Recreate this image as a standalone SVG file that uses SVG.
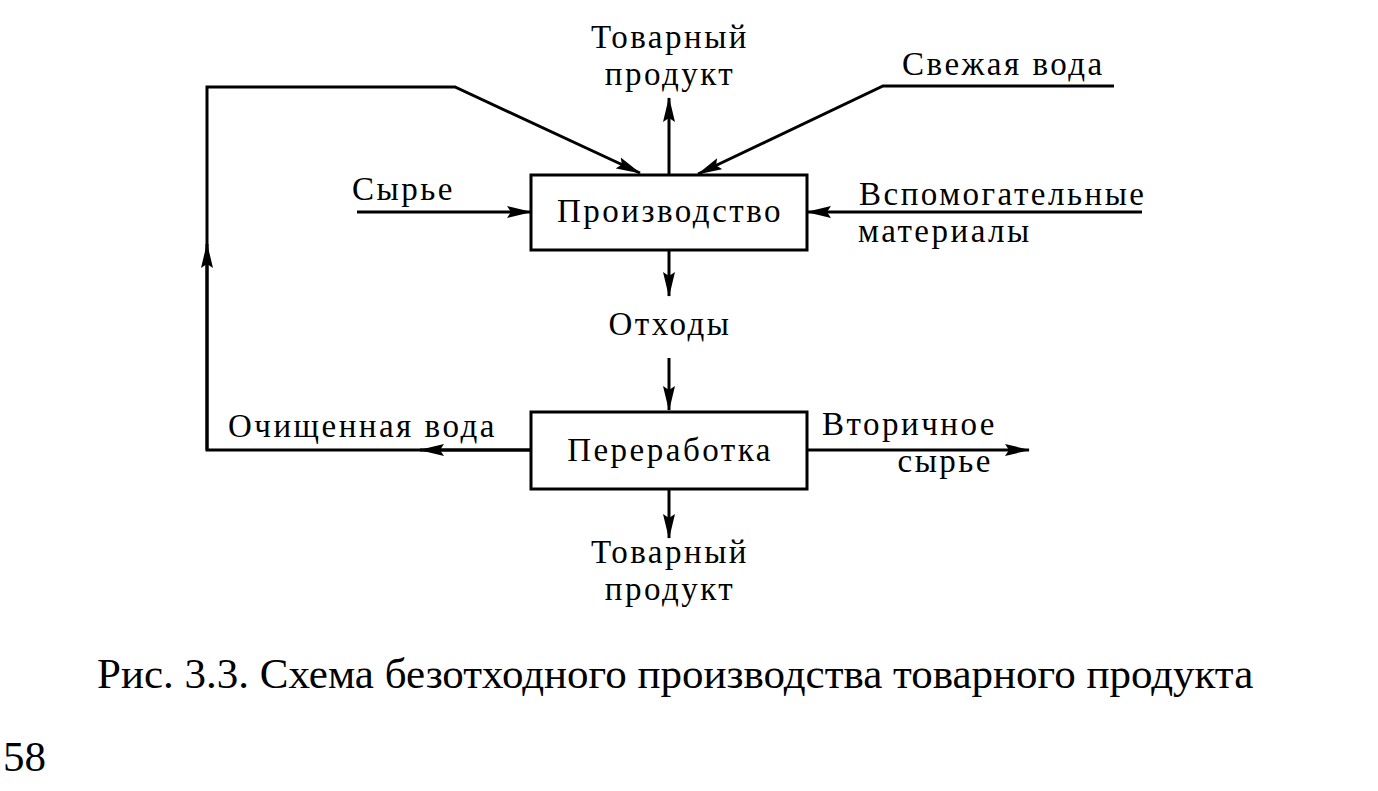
<svg xmlns="http://www.w3.org/2000/svg" width="1378" height="791" viewBox="0 0 1378 791">
<style>
text{font-family:"Liberation Serif","Times New Roman",serif;fill:#000;font-size:33px;letter-spacing:2.5px}
.c{text-anchor:middle}
.e{text-anchor:end}
.ln{fill:none;stroke:#000;stroke-width:3;stroke-linejoin:miter}
.box{fill:#fff;stroke:#000;stroke-width:3}
.cap{font-size:43px;letter-spacing:0}
</style>
<defs>
<marker id="ah" markerUnits="userSpaceOnUse" markerWidth="26" markerHeight="14" viewBox="0 0 26 14" refX="24" refY="7" orient="auto">
<path d="M0,1 L25,7 L0,13 L4,7 Z" fill="#000"/>
</marker>
</defs>
<rect width="1378" height="791" fill="#fff"/>
<g id="connectors">
<path class="ln" d="M531,450 H207 V87 H455 L640,173" marker-end="url(#ah)"/>
<path class="ln" d="M531,450 H420" marker-end="url(#ah)"/>
<path class="ln" d="M207,450 V244" marker-end="url(#ah)"/>
<path class="ln" d="M1114,86 H883 L698,174" marker-end="url(#ah)"/>
<path class="ln" d="M669,175 V98" marker-end="url(#ah)"/>
<path class="ln" d="M357,212 H531" marker-end="url(#ah)"/>
<path class="ln" d="M1142,212 H807" marker-end="url(#ah)"/>
<path class="ln" d="M669,250 V296" marker-end="url(#ah)"/>
<path class="ln" d="M669,358 V410" marker-end="url(#ah)"/>
<path class="ln" d="M669,489 V538" marker-end="url(#ah)"/>
<path class="ln" d="M807,450 H1029" marker-end="url(#ah)"/>
</g>
<g id="production">
<rect class="box" x="531" y="175" width="276" height="75"/>
<text class="c" x="670" y="222">Производство</text>
</g>
<g id="processing">
<rect class="box" x="531" y="412" width="276" height="77"/>
<text class="c" x="670" y="461">Переработка</text>
</g>
<g id="product-top">
<text class="c" x="670" y="48">Товарный</text>
<text class="c" x="670" y="85">продукт</text>
</g>
<g id="fresh-water"><text x="902" y="75">Свежая вода</text></g>
<g id="raw"><text x="352" y="200">Сырье</text></g>
<g id="aux">
<text x="859" y="205">Вспомогательные</text>
<text x="858" y="242">материалы</text>
</g>
<g id="waste"><text class="c" x="670" y="335">Отходы</text></g>
<g id="clean-water"><text x="228" y="437">Очищенная вода</text></g>
<g id="secondary">
<text x="822" y="435">Вторичное</text>
<text class="e" x="993" y="472">сырье</text>
</g>
<g id="product-bottom">
<text class="c" x="670" y="563">Товарный</text>
<text class="c" x="670" y="600">продукт</text>
</g>
<text class="cap" x="97" y="688">Рис. 3.3. Схема безотходного производства товарного продукта</text>
<text class="cap" x="3" y="771">58</text>
</svg>
